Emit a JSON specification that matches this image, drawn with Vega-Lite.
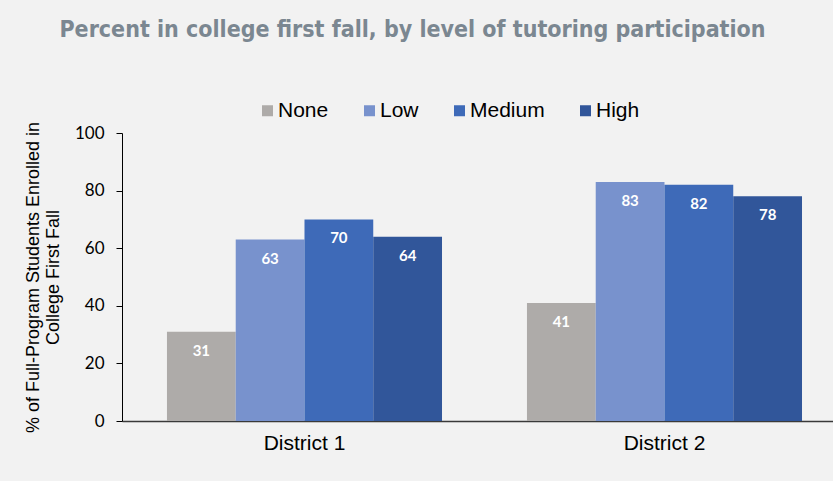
{
  "$schema": "https://vega.github.io/schema/vega-lite/v6.json",
  "width": 711,
  "height": 288,
  "autosize": {"type": "none"},
  "padding": {"left": 122, "top": 133, "right": 0, "bottom": 60},
  "background": "#f2f2f2",
  "title": {
    "text": "Percent in college first fall, by level of tutoring participation",
    "font": "Liberation Sans Narrow, DejaVu Sans Condensed",
    "fontSize": 23,
    "fontWeight": "bold",
    "color": "#7b8791",
    "anchor": "middle",
    "frame": "group",
    "dx": -65,
    "offset": 58
  },
  "data": {
    "values": [
      {"district": "District 1", "level": "None", "pct": 31},
      {"district": "District 1", "level": "Low", "pct": 63},
      {"district": "District 1", "level": "Medium", "pct": 70},
      {"district": "District 1", "level": "High", "pct": 64},
      {"district": "District 2", "level": "None", "pct": 41},
      {"district": "District 2", "level": "Low", "pct": 83},
      {"district": "District 2", "level": "Medium", "pct": 82},
      {"district": "District 2", "level": "High", "pct": 78}
    ]
  },
  "encoding": {
    "x": {
      "field": "district",
      "type": "nominal",
      "scale": {"paddingInner": 0.236, "paddingOuter": 0.1055, "align": 0.592},
      "axis": {
        "title": null,
        "labelAngle": 0,
        "labelFont": "Liberation Sans",
        "labelFontSize": 21,
        "labelColor": "#000000",
        "labelPadding": 11,
        "ticks": false,
        "domainColor": "#3a3a3a",
        "domainWidth": 1.5
      }
    },
    "xOffset": {
      "field": "level",
      "type": "nominal",
      "sort": ["None", "Low", "Medium", "High"],
      "scale": {"paddingInner": 0, "paddingOuter": 0}
    },
    "y": {
      "field": "pct",
      "type": "quantitative",
      "scale": {"domain": [0, 100]},
      "axis": {
        "title": ["% of Full-Program Students Enrolled in", "College First Fall"],
        "titleFont": "Liberation Sans",
        "titleFontSize": 18,
        "titleFontWeight": "normal",
        "titleColor": "#000000",
        "titleLineHeight": 20,
        "titlePadding": 12,
        "labelFont": "Lato",
        "labelFontSize": 17,
        "labelColor": "#000000",
        "labelPadding": 12,
        "tickSize": 6,
        "tickColor": "#000000",
        "domainColor": "#000000",
        "grid": false,
        "values": [0, 20, 40, 60, 80, 100]
      }
    }
  },
  "layer": [
    {
      "mark": {"type": "bar"},
      "encoding": {
        "color": {
          "field": "level",
          "type": "nominal",
          "scale": {
            "domain": ["None", "Low", "Medium", "High"],
            "range": ["#aeaba9", "#7892cd", "#3e6ab8", "#31569a"]
          },
          "legend": {
            "orient": "none",
            "legendX": 135,
            "legendY": -33,
            "direction": "horizontal",
            "title": null,
            "symbolType": "square",
            "symbolSize": 121,
            "symbolStrokeWidth": 0,
            "labelFont": "Liberation Sans",
            "labelFontSize": 21,
            "labelColor": "#000000",
            "labelOffset": 0,
            "columnPadding": 30
          }
        }
      }
    },
    {
      "mark": {
        "type": "text",
        "baseline": "middle",
        "align": "center",
        "dy": 19,
        "font": "Lato",
        "fontWeight": "bold",
        "fontSize": 15,
        "color": "#ffffff"
      },
      "encoding": {
        "text": {"field": "pct", "type": "quantitative"}
      }
    }
  ],
  "config": {
    "view": {"stroke": null}
  }
}
